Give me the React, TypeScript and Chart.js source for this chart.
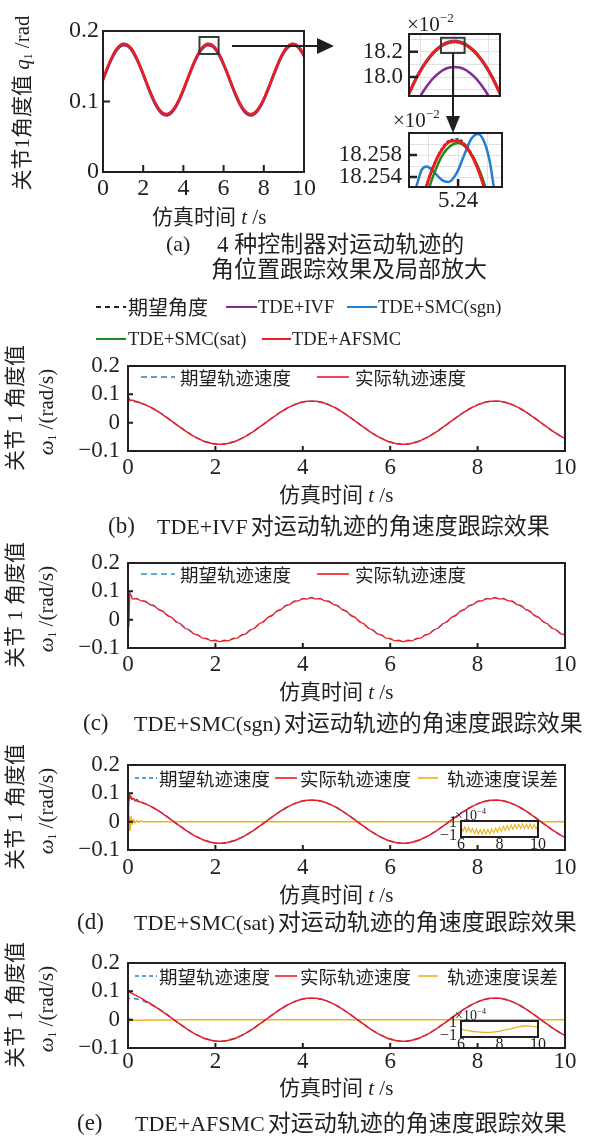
import React, { useEffect, useRef } from 'react';
import { Chart, registerables } from 'chart.js';

Chart.register(...registerables);

/* ======================= data ======================= */
// (a) joint-1 angle q1 (rad), sampled every 0.2 s, t = 0 ... 10 s
const Q_STEP = 0.2;
const Q_REF = [
  0.1320, 0.1467, 0.1602, 0.1711, 0.1785, 0.1819, 0.1807, 0.1753, 0.1660, 0.1537, 0.1395,
  0.1245, 0.1103, 0.0980, 0.0887, 0.0833, 0.0821, 0.0855, 0.0929, 0.1038, 0.1173,
  0.1320, 0.1467, 0.1602, 0.1711, 0.1785, 0.1819, 0.1807, 0.1753, 0.1660, 0.1537, 0.1395,
  0.1245, 0.1103, 0.0980, 0.0887, 0.0833, 0.0821, 0.0855, 0.0929, 0.1038, 0.1173,
  0.1320, 0.1467, 0.1602, 0.1711, 0.1785, 0.1819, 0.1807, 0.1753, 0.1660,
];
const Q_IVF = [
  0.1300, 0.1447, 0.1582, 0.1691, 0.1765, 0.1799, 0.1787, 0.1733, 0.1640, 0.1517, 0.1375,
  0.1225, 0.1083, 0.0960, 0.0867, 0.0813, 0.0801, 0.0835, 0.0909, 0.1018, 0.1153,
  0.1300, 0.1447, 0.1582, 0.1691, 0.1765, 0.1799, 0.1787, 0.1733, 0.1640, 0.1517, 0.1375,
  0.1225, 0.1083, 0.0960, 0.0867, 0.0813, 0.0801, 0.0835, 0.0909, 0.1018, 0.1153,
  0.1300, 0.1447, 0.1582, 0.1691, 0.1765, 0.1799, 0.1787, 0.1733, 0.1640,
];
const A_X_TICKS = [0, 2, 4, 6, 8, 10];
const A_Y_TICKS = [0, 0.1, 0.2];

// first zoom (x10^-2 rad), t = 4.97 ... 5.51 step 0.03
const Z1_T0 = 4.97;
const Z1_STEP = 0.03;
const Z1_AFSMC = [17.868, 17.955, 18.031, 18.097, 18.153, 18.199, 18.234, 18.260, 18.275, 18.280, 18.275, 18.260, 18.234, 18.199, 18.153, 18.097, 18.031, 17.955, 17.868];
const Z1_SGN = [17.874, 17.961, 18.037, 18.103, 18.159, 18.205, 18.240, 18.266, 18.281, 18.286, 18.281, 18.266, 18.240, 18.205, 18.159, 18.103, 18.037, 17.961, 17.874];
const Z1_SAT = [17.864, 17.951, 18.027, 18.093, 18.149, 18.195, 18.230, 18.256, 18.271, 18.276, 18.271, 18.256, 18.230, 18.195, 18.149, 18.093, 18.027, 17.951, 17.864];
const Z1_IVF = [17.668, 17.755, 17.831, 17.897, 17.953, 17.999, 18.034, 18.060, 18.075, 18.080, 18.075, 18.060, 18.034, 17.999, 17.953, 17.897, 17.831, 17.755, 17.668];
const Z1_X_GRID = [5.04, 5.24, 5.44];
const Z1_Y_GRID = [17.9, 18.0, 18.1, 18.2, 18.3];
const Z1_Y_LABELS: [number, string][] = [[18.0, '18.0'], [18.2, '18.2']];

// second zoom (x10^-2 rad), t = 5.18 ... 5.30 step 0.01
const Z2_T0 = 5.18;
const Z2_STEP = 0.01;
const Z2_AFSMC = [18.2430, 18.2488, 18.2534, 18.2569, 18.2593, 18.2605, 18.2606, 18.2596, 18.2575, 18.2542, 18.2498, 18.2442, 18.2376];
const Z2_DES = [18.2433, 18.2491, 18.2537, 18.2572, 18.2596, 18.2608, 18.2609, 18.2599, 18.2578, 18.2545, 18.2501, 18.2445, 18.2379];
const Z2_SAT = [18.2405, 18.2466, 18.2516, 18.2554, 18.2582, 18.2597, 18.2602, 18.2595, 18.2577, 18.2548, 18.2507, 18.2455, 18.2392];
const Z2_SGN_T = [5.180, 5.185, 5.191, 5.198, 5.207, 5.218, 5.227, 5.238, 5.249, 5.258, 5.267, 5.276, 5.283, 5.288, 5.295];
const Z2_SGN = [18.2505, 18.2528, 18.2553, 18.2559, 18.2550, 18.2535, 18.2531, 18.2547, 18.2583, 18.2610, 18.2618, 18.2601, 18.2565, 18.2522, 18.2470];
const Z2_X_GRID = [5.20, 5.24, 5.28];
const Z2_X_LABELS: [number, string][] = [[5.24, '5.24']];
const Z2_Y_GRID = [18.254, 18.256, 18.258, 18.260];
const Z2_Y_LABELS: [number, string][] = [[18.254, '18.254'], [18.258, '18.258']];

// (b)-(e) joint-1 angular velocity (rad/s), sampled every 0.1 s, t = 0 ... 10 s
const W_STEP = 0.1;
const W_REF = [
  0.0760, 0.0752, 0.0726, 0.0685, 0.0628, 0.0557, 0.0474, 0.0380, 0.0278, 0.0169,
  0.0057, -0.0057, -0.0169, -0.0278, -0.0380, -0.0474, -0.0557, -0.0628, -0.0685, -0.0726,
  -0.0752, -0.0760, -0.0752, -0.0726, -0.0685, -0.0628, -0.0557, -0.0474, -0.0380, -0.0278,
  -0.0169, -0.0057, 0.0057, 0.0169, 0.0278, 0.0380, 0.0474, 0.0557, 0.0628, 0.0685,
  0.0726, 0.0752,
  0.0760, 0.0752, 0.0726, 0.0685, 0.0628, 0.0557, 0.0474, 0.0380, 0.0278, 0.0169,
  0.0057, -0.0057, -0.0169, -0.0278, -0.0380, -0.0474, -0.0557, -0.0628, -0.0685, -0.0726,
  -0.0752, -0.0760, -0.0752, -0.0726, -0.0685, -0.0628, -0.0557, -0.0474, -0.0380, -0.0278,
  -0.0169, -0.0057, 0.0057, 0.0169, 0.0278, 0.0380, 0.0474, 0.0557, 0.0628, 0.0685,
  0.0726, 0.0752,
  0.0760, 0.0752, 0.0726, 0.0685, 0.0628, 0.0557, 0.0474, 0.0380, 0.0278, 0.0169,
  0.0057, -0.0057, -0.0169, -0.0278, -0.0380, -0.0474, -0.0557,
];
// TDE+SMC(sgn) actual velocity, with its chattering
const W_SGN = [
  0.0785, 0.0727, 0.0751, 0.0660, 0.0653, 0.0532, 0.0499, 0.0355, 0.0303, 0.0144,
  0.0082, -0.0082, -0.0144, -0.0303, -0.0355, -0.0499, -0.0532, -0.0653, -0.0660, -0.0751,
  -0.0727, -0.0785, -0.0727, -0.0751, -0.0660, -0.0653, -0.0532, -0.0499, -0.0355, -0.0303,
  -0.0144, -0.0082, 0.0082, 0.0144, 0.0303, 0.0355, 0.0499, 0.0532, 0.0653, 0.0660,
  0.0751, 0.0727,
  0.0785, 0.0727, 0.0751, 0.0660, 0.0653, 0.0532, 0.0499, 0.0355, 0.0303, 0.0144,
  0.0082, -0.0082, -0.0144, -0.0303, -0.0355, -0.0499, -0.0532, -0.0653, -0.0660, -0.0751,
  -0.0727, -0.0785, -0.0727, -0.0751, -0.0660, -0.0653, -0.0532, -0.0499, -0.0355, -0.0303,
  -0.0144, -0.0082, 0.0082, 0.0144, 0.0303, 0.0355, 0.0499, 0.0532, 0.0653, 0.0660,
  0.0751, 0.0727,
  0.0785, 0.0727, 0.0751, 0.0660, 0.0653, 0.0532, 0.0499, 0.0355, 0.0303, 0.0144,
  0.0082, -0.0082, -0.0144, -0.0303, -0.0355, -0.0499, -0.0532,
];
// start-up transients
const DES_START_T = [0, 0.01];
const DES_START_W = [0.0, 0.0760];
const B_START_T = [0, 0.02, 0.05, 0.1, 0.15, 0.2];
const B_START_W = [0.097, 0.086, 0.080, 0.079, 0.077, 0.0745];
const C_START_T = [0, 0.02, 0.04, 0.07];
const C_START_W = [0.0, -0.025, 0.095, 0.086];
const D_START_T = [0, 0.02, 0.04, 0.06, 0.09, 0.12, 0.16, 0.2, 0.25];
const D_START_W = [-0.02, 0.1, 0.082, 0.092, 0.078, 0.083, 0.076, 0.078, 0.071];
const D_ERR_T = [0, 0.01, 0.025, 0.04, 0.06, 0.08, 0.1, 0.13, 0.16, 0.2, 0.25, 0.3, 0.35, 0.4, 10];
const D_ERR_W = [0, 0.1, -0.03, 0.02, -0.012, 0.009, -0.006, 0.006, -0.004, 0.003, -0.002, 0.002, 0, 0, 0];
const E_START_T = [0, 0.015, 0.05, 0.1, 0.2, 0.3, 0.4, 0.5];
const E_START_W = [0.0, 0.103, 0.096, 0.092, 0.084, 0.076, 0.066, 0.058];
const E_ERR_T = [0, 0.01, 0.02, 0.04, 0.08, 0.2, 0.5, 0.8, 1.2, 10];
const E_ERR_W = [0, -0.015, 0.008, -0.004, -0.002, -0.002, -0.0015, -0.001, 0, 0];
const W_X_TICKS = [0, 2, 4, 6, 8, 10];
const W_Y_TICKS = [-0.1, 0, 0.1, 0.2];

// velocity-error insets (x10^-4), t = 6 ... 10
const D_INSET_STEP = 0.1;
const D_INSET = [0.40, -0.35, 0.30, -0.45, 0.20, -0.55, 0.08, -0.68, -0.03, -0.75, -0.07, -0.78, -0.08, -0.77, -0.05, -0.72, 0.02, -0.62, 0.15, -0.48, 0.29, -0.35, 0.41, -0.23, 0.53, -0.13, 0.61, -0.05, 0.68, 0.01, 0.73, 0.05, 0.75, 0.06, 0.76, 0.05, 0.74, 0.02, 0.70, -0.02, 0.65];
const E_INSET_STEP = 0.25;
const E_INSET = [-0.05, -0.18, -0.30, -0.40, -0.47, -0.51, -0.50, -0.44, -0.33, -0.18, -0.02, 0.15, 0.32, 0.45, 0.47, 0.38, 0.25];
const INSET_X_TICKS = [6, 8, 10];
const INSET_Y_TICKS = [-1, 1];

/* ======================= style ======================= */
const INK = '#231f20';
const LATIN = "'Liberation Serif', 'Times New Roman', serif";
const CJKF = "'Noto Sans CJK SC', 'Noto Sans', sans-serif";
const MIX = "'Liberation Serif', 'Noto Sans CJK SC', serif";
const C_RED = '#ee1c24';
const C_PURPLE = '#7e2f8e';
const C_BLUE = '#1f7fd0';
const C_LBLUE = '#5aaee8';
const C_GREEN = '#1b8c1b';
const C_ORANGE = '#edb120';
const C_BLACK = '#222222';

/* ======================= helpers ======================= */
type Pt = { x: number; y: number };
const onGrid = (step: number, vals: number[], from = 0, t0 = 0): Pt[] => {
  const out: Pt[] = [];
  for (let i = from; i < vals.length; i++) out.push({ x: t0 + i * step, y: vals[i] });
  return out;
};
const paired = (ts: number[], vals: number[]): Pt[] => ts.map((t, i) => ({ x: t, y: vals[i] }));
const ln = (data: Pt[], color: string, width: number, extra: any = {}) => ({
  data,
  borderColor: color,
  backgroundColor: color,
  borderWidth: width,
  pointRadius: 0,
  pointHoverRadius: 0,
  fill: false,
  cubicInterpolationMode: 'monotone',
  ...extra,
});
const fromList = (list: [number, string][]) => (v: number) => {
  const hit = list.find((l) => Math.abs(l[0] - v) < 1e-9);
  return hit ? hit[1] : '';
};
const fmtVel = (v: number) => (v === 0 ? '0' : (v < 0 ? '−' : '') + Math.abs(v).toFixed(1));
const fmtInt = (v: number) => (v < 0 ? '−' : '') + String(Math.abs(v));

const decor = {
  id: 'decor',
  beforeDraw(chart: any, _a: any, o: any) {
    if (!o || !o.fillWhite) return;
    const { ctx, chartArea: c } = chart;
    ctx.save();
    ctx.fillStyle = '#ffffff';
    ctx.fillRect(c.left, c.top, c.right - c.left, c.bottom - c.top);
    ctx.restore();
  },
  afterDatasetsDraw(chart: any, _a: any, o: any) {
    const { ctx, chartArea: c, scales } = chart;
    const xs = scales.x;
    const ys = scales.y;
    ctx.save();
    (o.boxes || []).forEach((b: any) => {
      const x0 = xs.getPixelForValue(b.x0);
      const x1 = xs.getPixelForValue(b.x1);
      const y0 = ys.getPixelForValue(b.y0);
      const y1 = ys.getPixelForValue(b.y1);
      ctx.strokeStyle = b.color;
      ctx.lineWidth = b.width;
      ctx.strokeRect(Math.min(x0, x1), Math.min(y0, y1), Math.abs(x1 - x0), Math.abs(y1 - y0));
    });
    if (o.tickLen) {
      ctx.strokeStyle = INK;
      ctx.lineWidth = o.tickWidth;
      ctx.beginPath();
      (o.inX || []).forEach((v: number) => {
        const p = xs.getPixelForValue(v);
        ctx.moveTo(p, c.bottom);
        ctx.lineTo(p, c.bottom - o.tickLen);
      });
      (o.inY || []).forEach((v: number) => {
        const p = ys.getPixelForValue(v);
        ctx.moveTo(c.left, p);
        ctx.lineTo(c.left + o.tickLen, p);
      });
      ctx.stroke();
    }
    ctx.strokeStyle = INK;
    ctx.lineWidth = o.border;
    ctx.strokeRect(c.left, c.top, c.right - c.left, c.bottom - c.top);
    ctx.restore();
  },
};

function makeAxis(a: any, horizontal: boolean, size: number) {
  return {
    type: 'linear',
    min: a.min,
    max: a.max,
    afterBuildTicks: (s: any) => {
      s.ticks = a.ticks.map((v: number) => ({ value: v }));
    },
    afterFit: (s: any) => {
      if (horizontal) s.height = size;
      else s.width = size;
      s.paddingLeft = 0;
      s.paddingRight = 0;
      s.paddingTop = 0;
      s.paddingBottom = 0;
    },
    ticks: {
      autoSkip: false,
      maxRotation: 0,
      minRotation: 0,
      padding: a.pad,
      color: INK,
      font: { family: LATIN, size: a.font, lineHeight: 1 },
      callback: (v: number) => a.labels(v),
    },
    grid: { display: !!a.grid, color: a.grid || 'rgba(0,0,0,0)', drawTicks: false, tickLength: 0, lineWidth: 1 },
    border: { display: false },
  };
}

function Plot({ spec }: { spec: any }) {
  const ref = useRef<HTMLCanvasElement | null>(null);
  const { rect, pl, pr, pt, pb } = spec;
  const left = rect.L - pl;
  const top = rect.T - pt;
  const w = rect.R + pr - left;
  const h = rect.B + pb - top;
  useEffect(() => {
    if (!ref.current) return;
    const chart = new Chart(ref.current, {
      type: 'line',
      data: { datasets: spec.datasets },
      options: {
        animation: false,
        responsive: false,
        devicePixelRatio: 1,
        events: [],
        layout: { padding: { left: 0, top: pt, right: pr, bottom: 0 } },
        plugins: {
          legend: { display: false },
          tooltip: { enabled: false },
          title: { display: false },
          decor: spec.decor,
        },
        scales: {
          x: makeAxis(spec.x, true, pb),
          y: makeAxis(spec.y, false, pl),
        },
      } as any,
      plugins: [decor as any],
    });
    return () => chart.destroy();
  }, []);
  return (
    <canvas
      ref={ref}
      width={w}
      height={h}
      style={{ position: 'absolute', left, top, width: w, height: h }}
    />
  );
}

/* ======================= specs ======================= */
const SPEC_A = {
  rect: { L: 103, T: 31, R: 304, B: 172 },
  pl: 42, pr: 16, pt: 14, pb: 30,
  x: { min: 0, max: 10, ticks: A_X_TICKS, labels: fmtInt, font: 24, pad: 5 },
  y: { min: 0, max: 0.2, ticks: A_Y_TICKS, labels: fmtVel, font: 24, pad: 4 },
  decor: {
    border: 2, inX: [2, 4, 6, 8], inY: [0.1], tickLen: 7, tickWidth: 2,
    boxes: [{ x0: 4.8, x1: 5.75, y0: 0.1674, y1: 0.1915, color: '#3a3a3a', width: 2 }],
  },
  datasets: [
    ln(onGrid(Q_STEP, Q_REF), C_RED, 2.6),
    ln(onGrid(Q_STEP, Q_REF), C_BLACK, 1.2, { borderDash: [4, 3] }),
    ln(onGrid(Q_STEP, Q_REF), C_GREEN, 2),
    ln(onGrid(Q_STEP, Q_REF), C_BLUE, 2),
    ln(onGrid(Q_STEP, Q_IVF), C_PURPLE, 2.5),
  ],
};

const SPEC_Z1 = {
  rect: { L: 409, T: 34, R: 500, B: 96 },
  pl: 60, pr: 4, pt: 13, pb: 4,
  x: { min: 4.97, max: 5.51, ticks: Z1_X_GRID, labels: () => '', font: 12, pad: 0, grid: '#e2e2e2' },
  y: { min: 17.85, max: 18.34, ticks: Z1_Y_GRID, labels: fromList(Z1_Y_LABELS), font: 23, pad: 6, grid: '#e2e2e2' },
  decor: {
    border: 2, inX: [], inY: [18.0, 18.2], tickLen: 9, tickWidth: 2.5,
    boxes: [{ x0: 5.16, x1: 5.30, y0: 18.19, y1: 18.31, color: '#3a3a3a', width: 2 }],
  },
  datasets: [
    ln(onGrid(Z1_STEP, Z1_AFSMC, 0, Z1_T0), C_RED, 3),
    ln(onGrid(Z1_STEP, Z1_AFSMC, 0, Z1_T0), C_BLACK, 1.2, { borderDash: [4, 3] }),
    ln(onGrid(Z1_STEP, Z1_SAT, 0, Z1_T0), C_GREEN, 2.5),
    ln(onGrid(Z1_STEP, Z1_SGN, 0, Z1_T0), C_BLUE, 2.5),
    ln(onGrid(Z1_STEP, Z1_IVF, 0, Z1_T0), C_PURPLE, 2.5),
  ],
};

const SPEC_Z2 = {
  rect: { L: 409, T: 133, R: 502, B: 187 },
  pl: 80, pr: 4, pt: 13, pb: 26,
  x: { min: 5.174, max: 5.299, ticks: Z2_X_GRID, labels: fromList(Z2_X_LABELS), font: 23, pad: 2, grid: '#e2e2e2' },
  y: { min: 18.2522, max: 18.262, ticks: Z2_Y_GRID, labels: fromList(Z2_Y_LABELS), font: 23, pad: 7, grid: '#e2e2e2' },
  decor: { border: 2, inX: [5.24], inY: [18.254, 18.258], tickLen: 8, tickWidth: 2.5, boxes: [] },
  datasets: [
    ln(onGrid(Z2_STEP, Z2_AFSMC, 0, Z2_T0), C_RED, 3),
    ln(onGrid(Z2_STEP, Z2_DES, 0, Z2_T0), C_BLACK, 1.5, { borderDash: [3, 2] }),
    ln(onGrid(Z2_STEP, Z2_SAT, 0, Z2_T0), C_GREEN, 2.5),
    ln(paired(Z2_SGN_T, Z2_SGN), C_BLUE, 2.5),
  ],
};

const desired = () => paired(DES_START_T, DES_START_W).concat(onGrid(W_STEP, W_REF, 1));

function velSpec(T: number, xPad: number, datasets: any[]) {
  return {
    rect: { L: 128, T, R: 565, B: T + 85 },
    pl: 56, pr: 14, pt: 14, pb: 30,
    x: { min: 0, max: 10, ticks: W_X_TICKS, labels: fmtInt, font: 23, pad: xPad },
    y: { min: -0.1, max: 0.2, ticks: W_Y_TICKS, labels: fmtVel, font: 23, pad: 8 },
    decor: { border: 2, inX: [2, 4, 6, 8], inY: [0, 0.1], tickLen: 5, tickWidth: 2, boxes: [] },
    datasets,
  };
}

const T_B = 366;
const T_C = 563;
const T_D = 765;
const T_E = 963;

const SPEC_B = velSpec(T_B, 5, [
  ln(paired(B_START_T, B_START_W).concat(onGrid(W_STEP, W_REF, 3)), C_RED, 1.5),
  ln(desired(), C_BLUE, 1.5, { borderDash: [5, 4] }),
]);
const SPEC_C = velSpec(T_C, 5, [
  ln(paired(C_START_T, C_START_W).concat(onGrid(W_STEP, W_SGN, 1)), C_RED, 1.3, { cubicInterpolationMode: 'default', tension: 0 }),
  ln(desired(), C_LBLUE, 1.5, { borderDash: [5, 4] }),
]);
const SPEC_D = velSpec(T_D, 6, [
  ln(paired(D_START_T, D_START_W).concat(onGrid(W_STEP, W_REF, 3)), C_RED, 1.5),
  ln(desired(), C_BLUE, 1.5, { borderDash: [5, 4] }),
  ln(paired(D_ERR_T, D_ERR_W), C_ORANGE, 1.5, { cubicInterpolationMode: 'default', tension: 0 }),
]);
const SPEC_E = velSpec(T_E, 2, [
  ln(paired(E_START_T, E_START_W).concat(onGrid(W_STEP, W_REF, 6)), C_RED, 1.5),
  ln(desired(), C_BLUE, 1.5, { borderDash: [5, 4] }),
  ln(paired(E_ERR_T, E_ERR_W), C_ORANGE, 1.5, { cubicInterpolationMode: 'default', tension: 0 }),
]);

function insetSpec(T: number, data: Pt[], zig: boolean) {
  return {
    rect: { L: 461, T, R: 538, B: T + 16 },
    pl: 24, pr: 14, pt: 10, pb: 17,
    x: { min: 6, max: 10, ticks: INSET_X_TICKS, labels: fmtInt, font: 16, pad: 0 },
    y: { min: -1.2, max: 1.2, ticks: INSET_Y_TICKS, labels: fmtInt, font: 16, pad: 4 },
    decor: { border: 2, inX: [], inY: [], tickLen: 0, tickWidth: 0, boxes: [], fillWhite: true },
    datasets: [ln(data, C_ORANGE, zig ? 1.1 : 1.3, zig ? { cubicInterpolationMode: 'default', tension: 0 } : {})],
  };
}
const SPEC_DI = insetSpec(T_D + 56, onGrid(D_INSET_STEP, D_INSET, 0, 6), true);
const SPEC_EI = insetSpec(T_E + 58, onGrid(E_INSET_STEP, E_INSET, 0, 6), false);

/* ======================= text helpers ======================= */
function Txt({ x, y, a = 'l', s, f = MIX, rot = false, children, st = {} }: any) {
  const tx = a === 'l' ? '0%' : a === 'c' ? '-50%' : '-100%';
  return (
    <div
      style={{
        position: 'absolute',
        left: x,
        top: y,
        transform: rot ? 'translate(-50%, -50%) rotate(-90deg)' : `translate(${tx}, -50%)`,
        fontFamily: f,
        fontSize: s,
        lineHeight: 1,
        whiteSpace: 'pre',
        color: INK,
        ...st,
      }}
    >
      {children}
    </div>
  );
}
const Sub = ({ c }: { c: string }) => (
  <span style={{ fontFamily: LATIN, fontSize: '0.55em', verticalAlign: '-0.3em' }}>{c}</span>
);
const Sup = ({ c }: { c: string }) => (
  <span style={{ fontFamily: LATIN, fontSize: '0.62em', verticalAlign: '0.7em' }}>{c}</span>
);
const It = ({ c }: { c: string }) => <i style={{ fontFamily: LATIN }}>{c}</i>;

function VelText({ T, titleY, capY, tag, tagX, name, nameX, legends, legY }: any) {
  return (
    <>
      <Txt x={15} y={T + 42} rot s={21}>关节 1 角度值</Txt>
      <Txt x={47} y={T + 46} rot s={21}>
        <It c="ω" />
        <Sub c="1" />
        <span style={{ fontFamily: LATIN }}> /(rad/s)</span>
      </Txt>
      <Txt x={279} y={titleY} s={21}>
        仿真时间 <It c="t" /> <span style={{ fontFamily: LATIN }}>/s</span>
      </Txt>
      {legends.map((l: any) => (
        <Txt key={l.x} x={l.x} y={legY} s={18.5} f={CJKF}>
          {l.text}
        </Txt>
      ))}
      <Txt x={tagX} y={capY} s={23} f={LATIN}>
        {tag}
      </Txt>
      <Txt x={nameX} y={capY} s={22} f={LATIN}>
        {name}
        <span style={{ fontFamily: CJKF, fontSize: 23, marginLeft: 3 }}>对运动轨迹的角速度跟踪效果</span>
      </Txt>
    </>
  );
}

const LEG_BC = [
  { x: 180, text: '期望轨迹速度' },
  { x: 355, text: '实际轨迹速度' },
];
const LEG_DE = [
  { x: 159, text: '期望轨迹速度' },
  { x: 300, text: '实际轨迹速度' },
  { x: 447, text: '轨迹速度误差' },
];

function Seg({ x1, x2, y, c, w = 2, dash }: any) {
  return <line x1={x1} x2={x2} y1={y} y2={y} stroke={c} strokeWidth={w} strokeDasharray={dash} />;
}

export default function App() {
  const legB = T_B + 11;
  const legC = T_C + 11;
  const legD = T_D + 13;
  const legE = T_E + 13;
  return (
    <div style={{ position: 'absolute', left: 0, top: 0, width: 592, height: 1136, background: '#ffffff', overflow: 'hidden' }}>
      <Plot spec={SPEC_A} />
      <Plot spec={SPEC_Z1} />
      <Plot spec={SPEC_Z2} />
      <Plot spec={SPEC_B} />
      <Plot spec={SPEC_C} />
      <Plot spec={SPEC_D} />
      <Plot spec={SPEC_E} />
      <Plot spec={SPEC_DI} />
      <Plot spec={SPEC_EI} />

      <svg width={592} height={1136} style={{ position: 'absolute', left: 0, top: 0, pointerEvents: 'none' }}>
        {/* zoom arrows */}
        <line x1={232} y1={46} x2={320} y2={46} stroke={INK} strokeWidth={2} />
        <polygon points="317,38 334,46 317,54" fill={INK} />
        <line x1={453} y1={53} x2={453} y2={118} stroke={INK} strokeWidth={2} />
        <polygon points="446,116 453,133 460,116" fill={INK} />
        {/* legend (a) */}
        <Seg x1={96} x2={126} y={307} c={C_BLACK} w={1.8} dash="5 4" />
        <Seg x1={226} x2={257} y={307} c={C_PURPLE} />
        <Seg x1={347} x2={377} y={307} c={C_BLUE} />
        <Seg x1={96} x2={126} y={339} c={C_GREEN} />
        <Seg x1={262} x2={291} y={339} c={C_RED} />
        {/* legend (b) */}
        <Seg x1={141} x2={175} y={legB} c={C_BLUE} w={1.6} dash="6 4" />
        <Seg x1={317} x2={349} y={legB} c={C_RED} w={1.6} />
        {/* legend (c) */}
        <Seg x1={141} x2={175} y={legC} c={C_LBLUE} w={1.8} dash="6 4" />
        <Seg x1={317} x2={349} y={legC} c={C_RED} w={1.6} />
        {/* legend (d) */}
        <Seg x1={135} x2={157} y={legD} c={C_BLUE} w={1.6} dash="4 3" />
        <Seg x1={275} x2={297} y={legD} c={C_RED} w={1.6} />
        <Seg x1={418} x2={438} y={legD} c={C_ORANGE} w={1.6} />
        {/* legend (e) */}
        <Seg x1={135} x2={157} y={legE} c={C_BLUE} w={1.6} dash="4 3" />
        <Seg x1={275} x2={297} y={legE} c={C_RED} w={1.6} />
        <Seg x1={418} x2={438} y={legE} c={C_ORANGE} w={1.6} />
      </svg>

      {/* ---------- panel (a) ---------- */}
      <Txt x={23} y={103} rot s={21}>
        关节1角度值 <It c="q" />
        <Sub c="1" />
        <span style={{ fontFamily: LATIN }}> /rad</span>
      </Txt>
      <Txt x={152} y={217} s={21}>
        仿真时间 <It c="t" /> <span style={{ fontFamily: LATIN }}>/s</span>
      </Txt>
      <Txt x={407} y={23} s={21} f={LATIN}>
        ×10<Sup c="−2" />
      </Txt>
      <Txt x={393} y={119} s={21} f={LATIN}>
        ×10<Sup c="−2" />
      </Txt>
      <Txt x={166} y={244} s={22} f={LATIN}>(a)</Txt>
      <Txt x={217} y={244} s={23}>4 种控制器对运动轨迹的</Txt>
      <Txt x={211} y={269} s={23}>角位置跟踪效果及局部放大</Txt>
      <Txt x={128} y={307} s={20} f={CJKF}>期望角度</Txt>
      <Txt x={258} y={307} s={18.5} f={LATIN}>TDE+IVF</Txt>
      <Txt x={378} y={307} s={18.5} f={LATIN}>TDE+SMC(sgn)</Txt>
      <Txt x={128} y={339} s={18.5} f={LATIN}>TDE+SMC(sat)</Txt>
      <Txt x={292} y={339} s={18.5} f={LATIN}>TDE+AFSMC</Txt>

      {/* ---------- panels (b)-(e) ---------- */}
      <VelText T={T_B} titleY={495} capY={525} tag="(b)" tagX={108} name="TDE+IVF" nameX={157} legends={LEG_BC} legY={legB} />
      <VelText T={T_C} titleY={692} capY={722} tag="(c)" tagX={83} name="TDE+SMC(sgn)" nameX={134} legends={LEG_BC} legY={legC} />
      <VelText T={T_D} titleY={895} capY={921} tag="(d)" tagX={77} name="TDE+SMC(sat)" nameX={134} legends={LEG_DE} legY={legD} />
      <VelText T={T_E} titleY={1088} capY={1122} tag="(e)" tagX={77} name="TDE+AFSMC" nameX={135} legends={LEG_DE} legY={legE} />

      <Txt x={455} y={T_D + 50} s={14} f={LATIN}>
        ×10<Sup c="−4" />
      </Txt>
      <Txt x={455} y={T_E + 52} s={14} f={LATIN}>
        ×10<Sup c="−4" />
      </Txt>
    </div>
  );
}
